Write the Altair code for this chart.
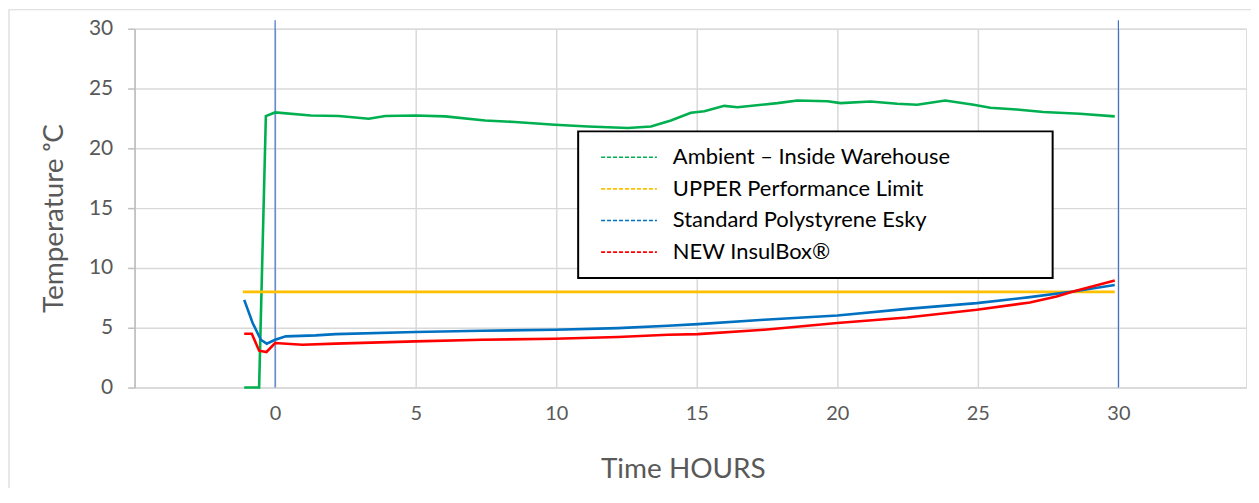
import altair as alt
import pandas as pd

# ---- data ----
series_names = ["Ambient – Inside Warehouse", "UPPER Performance Limit",
                "Standard Polystyrene Esky", "NEW InsulBox®"]
series_colors = ["#00B050", "#FFC000", "#0070C0", "#FF0000"]

ambient_h = [-1.1, -0.57, -0.33, 0, 1.27, 2.27, 3.33, 3.92, 5.0, 6.05, 7.47, 8.53,
             9.95, 11.13, 12.55, 13.37, 14.08, 14.79, 15.27, 15.98, 16.45, 17.87,
             18.58, 19.65, 20.12, 21.18, 22.13, 22.84, 23.84, 24.85, 25.44, 26.38,
             27.33, 28.63, 29.87]
ambient_t = [0, 0, 22.7, 23.0, 22.75, 22.7, 22.47, 22.7, 22.75, 22.67, 22.33, 22.2,
             21.97, 21.83, 21.7, 21.83, 22.33, 22.97, 23.1, 23.55, 23.44, 23.78,
             24.0, 23.94, 23.78, 23.92, 23.72, 23.64, 24.0, 23.64, 23.39, 23.25,
             23.03, 22.89, 22.67]

limit_h = [-1.15, 29.87]
limit_t = [8.0, 8.0]

esky_h = [-1.1, -0.8, -0.51, -0.3, 0, 0.38, 1.44, 2.15, 4.99, 7.35, 9.95, 12.2,
          13.97, 15.04, 17.4, 20.0, 22.48, 24.96, 26.85, 28.39, 29.87]
esky_t = [7.33, 5.4, 4.0, 3.67, 4.0, 4.28, 4.36, 4.47, 4.64, 4.75, 4.83, 4.97,
          5.17, 5.3, 5.67, 6.03, 6.58, 7.06, 7.56, 8.03, 8.58]

insul_h = [-1.1, -0.83, -0.57, -0.31, 0, 0.97, 2.15, 4.99, 7.35, 9.95, 12.2, 13.97,
           15.04, 17.4, 20.0, 22.48, 24.96, 26.85, 27.8, 28.39, 29.87]
insul_t = [4.5, 4.5, 3.08, 2.97, 3.72, 3.58, 3.67, 3.86, 4.0, 4.08, 4.22, 4.42,
           4.47, 4.83, 5.39, 5.86, 6.5, 7.11, 7.61, 8.03, 8.94]

marker_hours = [0, 30]
x_ticks = [-5, 0, 5, 10, 15, 20, 25, 30]
y_ticks = [0, 5, 10, 15, 20, 25, 30]

rows = []
for name, hs, ts in zip(series_names,
                        [ambient_h, limit_h, esky_h, insul_h],
                        [ambient_t, limit_t, esky_t, insul_t]):
    for i, (h, t) in enumerate(zip(hs, ts)):
        rows.append({"series": name, "hours": h, "temp": t, "order": i})
df = pd.DataFrame(rows)

markers = pd.DataFrame({"hours": marker_hours, "lo": [0.0, 0.0], "hi": [30.7, 30.7]})
leg_df = pd.DataFrame({"name": series_names, "color": series_colors,
                       "idx": list(range(len(series_names)))})

FONT = "Lato"
W, H = 1115, 360

xscale = alt.Scale(domain=[-5, 34.54], nice=False, zero=False)
yscale = alt.Scale(domain=[0, 30], nice=False)

lines = alt.Chart(df).mark_line(strokeWidth=2.6, clip=False).encode(
    x=alt.X("hours:Q", scale=xscale,
            axis=alt.Axis(values=x_ticks, title="Time HOURS",
                          labelExpr="datum.value < 0 ? '' : datum.label",
                          ticks=False, labelPadding=16, labelFontSize=20,
                          labelColor="#595959", labelFont=FONT,
                          domainColor="#D9D9D9", domainWidth=1.5,
                          gridColor="#D9D9D9", gridWidth=1.5,
                          titleFont=FONT, titleFontSize=28, titleFontWeight="normal",
                          titleColor="#595959", titleX=550, titleY=82,
                          titleBaseline="middle")),
    y=alt.Y("temp:Q", scale=yscale,
            axis=alt.Axis(values=y_ticks, title="Temperature ᵒC",
                          tickSize=7, tickColor="#BFBFBF", tickWidth=1.5,
                          domainColor="#BFBFBF", domainWidth=1.5,
                          labelPadding=15, labelFontSize=21, labelColor="#595959",
                          labelFont=FONT, gridColor="#D9D9D9", gridWidth=1.5,
                          titleFont=FONT, titleFontSize=28, titleFontWeight="normal",
                          titleColor="#595959", titleX=-80, titleY=190,
                          titleBaseline="middle", titleAngle=270)),
    color=alt.Color("series:N",
                    scale=alt.Scale(domain=series_names, range=series_colors),
                    legend=None),
    order="order:Q",
    detail="series:N",
)

vlines = alt.Chart(markers).mark_rule(color="#4472C4", strokeWidth=1.2, clip=False).encode(
    x=alt.X("hours:Q", scale=xscale),
    y=alt.Y("lo:Q", scale=yscale),
    y2="hi:Q",
)

frame = alt.Chart(markers.head(1)).mark_rect(fill="white", fillOpacity=0,
                                             stroke="#D9D9D9",
                                             strokeWidth=1.2).encode(
    x=alt.value(-126), x2=alt.value(1140), y=alt.value(-19), y2=alt.value(490)
)

box = alt.Chart(markers.head(1)).mark_rect(fill="white", stroke="black",
                                           strokeWidth=2).encode(
    x=alt.value(445), x2=alt.value(921), y=alt.value(103), y2=alt.value(250)
)

main = alt.layer(frame, vlines, lines, box)

legend_base = alt.Chart(leg_df).transform_calculate(ly="129 + 31.7 * datum.idx")
legend_sym = legend_base.mark_rule(strokeDash=[4, 2], strokeWidth=1.6).encode(
    x=alt.value(468), x2=alt.value(524),
    y=alt.Y("ly:Q", scale=None, axis=None),
    color=alt.Color("color:N", scale=None, legend=None),
)
legend_txt = legend_base.mark_text(align="left", baseline="middle", font=FONT,
                                   fontSize=22, color="black").encode(
    x=alt.value(540),
    y=alt.Y("ly:Q", scale=None, axis=None),
    text="name:N",
)
legend_layer = alt.layer(legend_sym, legend_txt)

chart = alt.layer(main, legend_layer).resolve_scale(
    y="independent", color="independent"
).properties(
    width=W, height=H,
    autosize=alt.AutoSizeParams(type="none"),
    padding={"left": 127, "top": 20, "right": 5, "bottom": 100},
).configure_view(stroke=None).configure(background="white")

chart.save("out.html", embed_options={"renderer": "svg", "actions": False})
